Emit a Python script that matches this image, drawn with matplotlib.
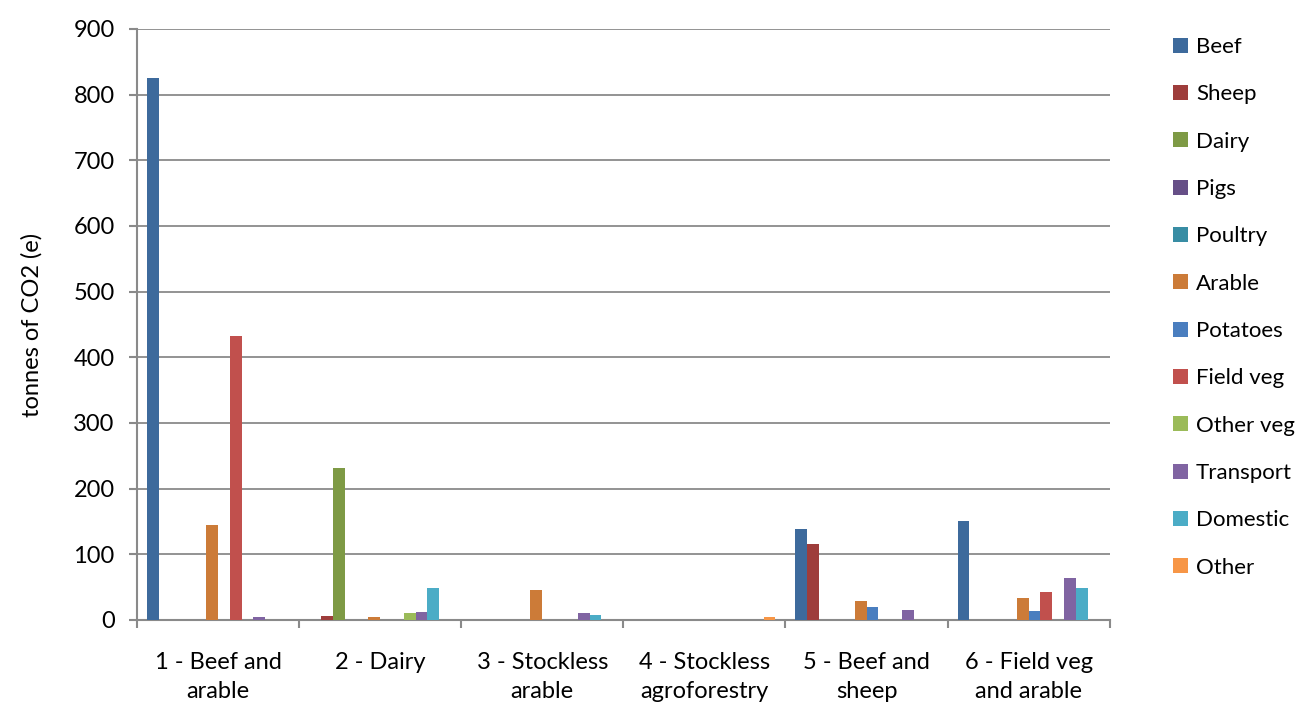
import numpy as np
import matplotlib
matplotlib.use("Agg")
import matplotlib.pyplot as plt
from matplotlib.patches import Patch

plt.rcParams['font.family'] = ['Lato', 'DejaVu Sans']

# categorias (sistemas) e series
farms = ["1 - Beef and\narable", "2 - Dairy", "3 - Stockless\narable",
         "4 - Stockless\nagroforestry", "5 - Beef and\nsheep", "6 - Field veg\nand arable"]
series = ["Beef", "Sheep", "Dairy", "Pigs", "Poultry", "Arable", "Potatoes",
          "Field veg", "Other veg", "Transport", "Domestic", "Other"]

beef = [825, 0, 0, 0, 138, 151]
sheep = [0, 6, 0, 0, 115, 0]
dairy = [0, 232, 0, 0, 0, 0]
pigs = [0, 0, 0, 0, 0, 0]
poultry = [0, 0, 0, 0, 0, 0]
arable = [145, 5, 46, 0, 29, 33]
potatoes = [0, 0, 0, 0, 20, 13]
field_veg = [432, 0, 0, 0, 0, 43]
other_veg = [0, 11, 0, 0, 0, 0]
transport = [4, 12, 10, 0, 15, 64]
domestic = [0, 49, 8, 0, 0, 49]
other = [0, 0, 0, 4, 0, 0]

colors = ["#3D6A9C", "#9E3D3B", "#7E9A45", "#664F87", "#388DA4", "#CC7B38",
          "#4A7EBF", "#C1504D", "#9BBB59", "#8064A2", "#4BACC6", "#F79646"]

data = [beef, sheep, dairy, pigs, poultry, arable, potatoes, field_veg,
        other_veg, transport, domestic, other]

fs = 17

fig = plt.figure(figsize=(13.04, 7.05), dpi=100)
ax = fig.add_axes([0.105, 0.1206, 0.746, 0.8383])

x = np.arange(len(farms))
w = 0.073
for i in range(len(series)):
    ax.bar(x - 5.5 * w + i * w, data[i], w, color=colors[i], label=series[i], zorder=3)

ax.set_xlim(-0.5, len(farms) - 0.5)
ax.set_ylim(0, 900)
ax.set_yticks(range(0, 901, 100))
ax.yaxis.grid(True, color="#8a8a8a", linewidth=1.3, zorder=0)
ax.set_axisbelow(True)

ax.set_xticks(x)
ax.set_xticklabels(farms, fontsize=fs, linespacing=1.45)
ax.tick_params(axis="x", length=0, pad=23)
ax.set_xticks(np.arange(-0.5, len(farms)), minor=True)
ax.tick_params(axis="x", which="minor", length=6, width=1.5, color="#8a8a8a")
ax.tick_params(axis="y", labelsize=fs, length=6, width=1.5, color="#8a8a8a", pad=10)

for s in ["top", "right"]:
    ax.spines[s].set_visible(False)
for s in ["left", "bottom"]:
    ax.spines[s].set_color("#8a8a8a")
    ax.spines[s].set_linewidth(1.5)

ax.set_ylabel("tonnes of CO2 (e)", fontsize=fs, labelpad=22)

handles = [Patch(facecolor=colors[i], label=series[i]) for i in range(len(series))]
fig.legend(handles=handles, loc="upper left", bbox_to_anchor=(0.893, 0.96),
           frameon=False, fontsize=16, handlelength=0.66, handleheight=0.66,
           handletextpad=0.35, labelspacing=1.23, borderaxespad=0)

plt.savefig("out.png", dpi=100)
